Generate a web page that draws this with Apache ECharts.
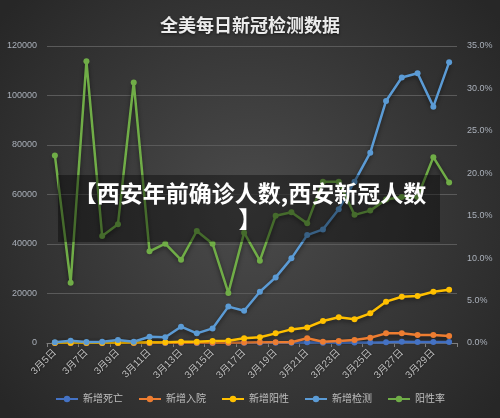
<!DOCTYPE html>
<html>
<head>
<meta charset="utf-8">
<script src="https://cdn.jsdelivr.net/npm/echarts@6/dist/echarts.min.js"></script>
<style>html,body{margin:0;padding:0;background:#333;}#main{width:500px;height:418px;}</style>
</head>
<body>
<div id="main"></div>
<script>
const categories = ['3月5日','3月6日','3月7日','3月8日','3月9日','3月10日','3月11日','3月12日','3月13日','3月14日','3月15日','3月16日','3月17日','3月18日','3月19日','3月20日','3月21日','3月22日','3月23日','3月24日','3月25日','3月26日','3月27日','3月28日','3月29日','3月30日'];
const newDeaths = [10,10,15,15,20,20,25,30,35,40,50,60,70,80,100,120,280,150,150,180,200,300,500,400,400,400];
const newHospital = [20,20,30,30,40,40,50,60,80,100,150,150,200,300,300,300,1900,500,800,1200,2100,3900,3900,3200,3200,2800];
const newPositive = [60,80,100,120,150,200,280,300,500,500,800,900,1900,2300,3900,5500,6300,8900,10400,9600,12000,16700,18700,19000,20700,21500];
const newTests = [300,900,400,500,1200,500,2500,2300,6600,3900,5900,14700,13000,20700,26500,34200,43600,45900,54000,65200,76900,97800,107300,109000,95500,113400];
const positiveRate = [22.1,7.1,33.2,12.6,14.0,30.7,10.8,11.7,9.8,13.2,11.7,5.9,13.0,9.7,15.0,15.4,14.1,19.0,19.0,15.1,15.6,16.9,17.2,17.2,21.9,18.9];
const leftTicks = {min:0, max:120000, interval:20000};
const rightTicks = {min:0, max:35, interval:5};
const seriesNames = ['新增死亡','新增入院','新增阳性','新增检测','阳性率'];
const colors = ['#4472C4','#ED7D31','#FFC000','#5B9BD5','#70AD47'];
const FONT = "'Liberation Sans','Noto Sans CJK SC',sans-serif";

const chart = echarts.init(document.getElementById('main'), null, {renderer:'canvas'});
function mk(name, data, color, yIdx){
  return {
    name, type:'line', data, yAxisIndex:yIdx,
    symbol:'circle', symbolSize:6,
    lineStyle:{width:2.5, color, shadowColor:'rgba(0,0,0,0.5)', shadowBlur:4, shadowOffsetY:2},
    itemStyle:{color},
    animation:false
  };
}
chart.setOption({
  backgroundColor:{type:'radial', x:0.5, y:0.5, r:0.75, colorStops:[{offset:0,color:'#4b4b4b'},{offset:1,color:'#272727'}]},
  color: colors,
  title:{text:'全美每日新冠检测数据', left:'center', top:11, textStyle:{color:'#ececec', fontSize:18, fontWeight:'bold', fontFamily:"'Noto Sans CJK SC',sans-serif", textShadowColor:'rgba(0,0,0,0.6)', textShadowBlur:3, textShadowOffsetY:1}},
  grid:{left:47, right:43, top:46, bottom:75, containLabel:false},
  legend:{bottom:9, left:'center', itemWidth:22, itemHeight:8, itemGap:15, data:seriesNames, textStyle:{color:'#bfbfbf', fontSize:10, fontFamily:FONT}},
  xAxis:{type:'category', data:categories, boundaryGap:true,
    axisLine:{lineStyle:{color:'#7f7f7f'}},
    axisTick:{show:true, length:4, lineStyle:{color:'#7f7f7f'}},
    axisLabel:{interval:1, rotate:45, color:'#bfbfbf', fontSize:10, margin:8, fontFamily:FONT, textShadowColor:'rgba(0,0,0,0.6)', textShadowBlur:2}},
  yAxis:[
    {type:'value', min:leftTicks.min, max:leftTicks.max, interval:leftTicks.interval,
     axisLine:{show:false}, axisTick:{show:false},
     axisLabel:{color:'#aab0ba', fontSize:9, margin:10, fontFamily:FONT, formatter:v=>String(v)},
     splitLine:{lineStyle:{color:'#5a5a5a', width:1}}},
    {type:'value', min:rightTicks.min, max:rightTicks.max, interval:rightTicks.interval,
     axisLine:{show:false}, axisTick:{show:false}, splitLine:{show:false},
     axisLabel:{color:'#aab0ba', fontSize:9, margin:10, fontFamily:FONT, formatter:v=>v.toFixed(1)+'%'}}
  ],
  series:[
    mk(seriesNames[0], newDeaths, colors[0], 0),
    mk(seriesNames[1], newHospital, colors[1], 0),
    mk(seriesNames[2], newPositive, colors[2], 0),
    mk(seriesNames[3], newTests, colors[3], 0),
    mk(seriesNames[4], positiveRate, colors[4], 1)
  ],
  graphic:[
    {type:'rect', z:100, shape:{x:58, y:175, width:382, height:67}, style:{fill:'rgba(0,0,0,0.38)'}},
    {type:'text', z:101, x:250, y:206, style:{text:'【西安年前确诊人数,西安新冠人数\n】', align:'center', verticalAlign:'middle', fill:'#ffffff', font:"bold 23px 'Noto Sans CJK SC'", lineHeight:26}}
  ]
});
</script>
</body>
</html>
